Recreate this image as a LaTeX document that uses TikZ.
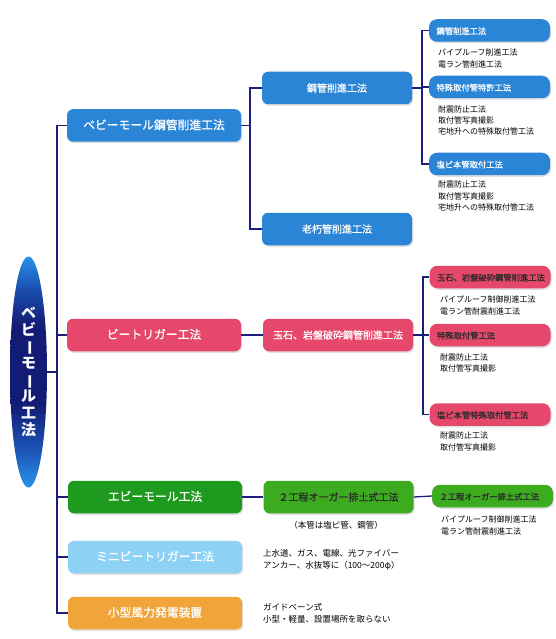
\documentclass[tikz,border=0pt]{standalone}
\usepackage{fontspec}
\newfontfamily\jp{Noto Sans CJK JP}
\newfontfamily\jpm{Noto Sans CJK JP}[FakeBold=0.8]
\usetikzlibrary{shadows}
\definecolor{cblue}{HTML}{2A85D6}
\definecolor{cpink}{HTML}{E6486B}
\definecolor{cgreen}{HTML}{1E9B1E}
\definecolor{cgreenb}{HTML}{3DAB20}
\definecolor{clblue}{HTML}{8DD2F4}
\definecolor{corange}{HTML}{F1A43A}
\definecolor{linec}{HTML}{1B1E7A}
\definecolor{ellight}{HTML}{2A92E8}
\definecolor{elmid}{HTML}{1A4FB0}
\definecolor{eldark}{HTML}{131C74}
\definecolor{darktxt}{HTML}{2A2A2A}
\pgfdeclareverticalshading{ellshade}{100bp}{color(0bp)=(ellight); color(25bp)=(ellight); color(34bp)=(elmid); color(43bp)=(eldark); color(60bp)=(eldark); color(68bp)=(elmid); color(75bp)=(ellight); color(100bp)=(ellight)}
\begin{document}
\begin{tikzpicture}[x=1pt,y=-1pt,
  box/.style={rounded corners=6pt, inner sep=0pt, text height=0.88em, text depth=0.12em,
    drop shadow={shadow xshift=1.2pt, shadow yshift=-1.5pt, opacity=0.25}},
  lvlone/.style={box, minimum width=174pt, minimum height=32.5pt, font=\jpm\fontsize{11.8}{14}\selectfont},
  lvltwo/.style={box, minimum width=150pt, minimum height=32.5pt, font=\jpm\fontsize{10}{12}\selectfont},
  lvlthree/.style={box, rounded corners=8pt, minimum width=121pt, minimum height=22.5pt,
    text width=106pt, align=left, inner xsep=7.5pt, font=\jpm\fontsize{8.3}{10}\selectfont},
  note/.style={anchor=west, inner sep=0pt, text height=0.88em, text depth=0.12em, text=black,
    font=\jp\fontsize{8}{10}\selectfont},
  bignote/.style={note, font=\jp\fontsize{8.5}{10}\selectfont},
  link/.style={draw=linec, line width=1.3pt}
]
\fill[white] (0,0) rectangle (555,639);
\useasboundingbox (0,0) rectangle (555,639);

% root ellipse
\shade[shading=ellshade] (28.5,372) ellipse [x radius=18.5, y radius=115.5];
\node[inner sep=0pt, text=white, align=center, font=\jp\bfseries\fontsize{15}{16.6}\selectfont] (root) at (28.5,372)
  {ベ\\ビ\\\rotatebox[origin=c]{-90}{ー}\\モ\\\rotatebox[origin=c]{-90}{ー}\\ル\\工\\法};
\coordinate (rootE) at (47,372);
\coordinate (sp) at (57,0);
\coordinate (ca) at (250,0);
\coordinate (cb) at (422,0);
\coordinate (cc) at (423,0);

% level 1
\node[lvlone, fill=cblue, text=white] (b1) at (154,125.5) {ベビーモール鋼管削進工法};
\node[lvlone, fill=cpink, text=white] (p1) at (154,335) {ビートリガー工法};
\node[lvlone, fill=cgreen, text=white] (g1) at (155,497) {エビーモール工法};
\node[lvlone, fill=clblue, text=white] (l1) at (155,557) {ミニビートリガー工法};
\node[lvlone, fill=corange, text=white] (o1) at (155,613) {小型風力発電装置};

% level 2
\node[lvltwo, fill=cblue, text=white] (b2a) at (337,88) {鋼管削進工法};
\node[lvltwo, fill=cblue, text=white] (b2b) at (337,229) {老朽管削進工法};
\node[lvltwo, fill=cpink, text=white] (p2) at (338,335) {玉石、岩盤破砕鋼管削進工法};
\node[lvltwo, fill=cgreenb, text=darktxt] (g2) at (338.5,497) {２工程オーガー排土式工法};

% level 3
\node[lvlthree, fill=cblue, text=white] (b3a) at (489.5,30.5) {鋼管削進工法};
\node[lvlthree, fill=cblue, text=white] (b3b) at (489.5,87) {特殊取付管特許工法};
\node[lvlthree, fill=cblue, text=white] (b3c) at (489.5,164) {塩ビ本管取付工法};
\node[lvlthree, fill=cpink, text=darktxt] (p3a) at (490,277) {玉石、岩盤破砕鋼管削進工法};
\node[lvlthree, fill=cpink, text=darktxt] (p3b) at (490,335) {特殊取付管工法};
\node[lvlthree, fill=cpink, text=darktxt] (p3c) at (490,414.5) {塩ビ本管特殊取付管工法};
\node[lvlthree, fill=cgreenb, text=darktxt] (g3) at (492.5,496) {２工程オーガー排土式工法};

% notes
\node[note] (n1) at (438,52) {パイプルーフ削進工法};
\node[note] (n2) at (438,63.5) {電ラン管削進工法};
\node[note] (n3) at (438,109) {耐震防止工法};
\node[note] (n4) at (438,120) {取付管写真撮影};
\node[note] (n5) at (438,131) {宅地升への特殊取付管工法};
\node[note] (n6) at (438,184) {耐震防止工法};
\node[note] (n7) at (438,195.5) {取付管写真撮影};
\node[note] (n8) at (438,207) {宅地升への特殊取付管工法};
\node[note] (n9) at (440,299) {パイプルーフ制御削進工法};
\node[note] (n10) at (440,310.5) {電ラン管耐震削進工法};
\node[note] (n11) at (440,357) {耐震防止工法};
\node[note] (n12) at (440,367.5) {取付管写真撮影};
\node[note] (n13) at (440,435) {耐震防止工法};
\node[note] (n14) at (440,447) {取付管写真撮影};
\node[note] (n15) at (441,519) {パイプルーフ制御削進工法};
\node[note] (n16) at (441,530.5) {電ラン管耐震削進工法};
\node[bignote, anchor=center] (n17) at (336,525) {（本管は塩ビ管、鋼管）};
\node[bignote] (n18) at (263,552.5) {上水道、ガス、電線、光ファイバー};
\node[bignote] (n19) at (263,564.5) {アンカー、水抜等に（100～200φ）};
\node[bignote] (n20) at (263,607) {ガイドベーン式};
\node[bignote] (n21) at (263,619) {小型・軽量、設置場所を取らない};

% connectors
\draw[link] (rootE) -- (rootE -| sp);
\draw[link] (b1.west) -- (b1.west -| sp) -- (o1.west -| sp) -- (o1.west);
\draw[link] (p1.west) -- (p1.west -| sp);
\draw[link] (g1.west) -- (g1.west -| sp);
\draw[link] (l1.west) -- (l1.west -| sp);

\draw[link] (b1.east) -- (b1.east -| ca);
\draw[link] (b2a.west) -- (b2a.west -| ca) -- (b2b.west -| ca) -- (b2b.west);
\draw[link] (b2a.east) -- (b2a.east -| cb);
\draw[link] (b3a.west) -- (b3a.west -| cb) -- (b3c.west -| cb) -- (b3c.west);
\draw[link] (b3b.west) -- (b3b.west -| cb);

\draw[link] (p1.east) -- (p2.west);
\draw[link] (p2.east) -- (p3b.west);
\draw[link] (p3a.west) -- (p3a.west -| cc) -- (p3c.west -| cc) -- (p3c.west);

\draw[link] (g1.east) -- (g2.west);
\draw[link] (g2.east) -- (g3.west);
\end{tikzpicture}
\end{document}
